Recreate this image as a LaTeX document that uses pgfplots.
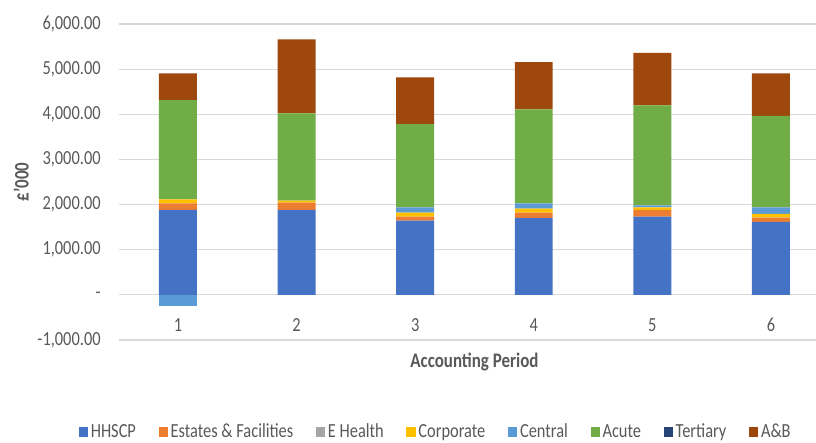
\documentclass[border=0pt]{standalone}
\usepackage{pgfplots}
\pgfplotsset{compat=1.18}
\usepackage{fontspec}
\setmainfont{Carlito}[FakeStretch=0.82]
\definecolor{cHH}{HTML}{4472C4}
\definecolor{cEF}{HTML}{ED7D31}
\definecolor{cEH}{HTML}{A5A5A5}
\definecolor{cCo}{HTML}{FFC000}
\definecolor{cCe}{HTML}{5B9BD5}
\definecolor{cAc}{HTML}{70AD47}
\definecolor{cTe}{HTML}{264478}
\definecolor{cAB}{HTML}{9E480E}
\definecolor{gridgray}{HTML}{D9D9D9}
\definecolor{txtgray}{HTML}{595959}
\begin{document}
\begin{tikzpicture}
\useasboundingbox (-89pt,-76.5pt) rectangle (523pt,255pt);
\begin{axis}[
  scale only axis, width=533.7pt, height=237pt,
  at={(0,0)}, anchor=south west,
  xmin=0.5, xmax=6.5, ymin=-1000, ymax=6000,
  ybar stacked, bar width=0.32,
  xtick={1,2,3,4,5,6}, xticklabels={1,2,3,4,5,6},
  ytick={-1000,0,1000,2000,3000,4000,5000,6000},
  yticklabels={{-1,000.00},{-\hspace{6pt}},{1,000.00},{2,000.00},{3,000.00},{4,000.00},{5,000.00},{6,000.00}},
  ymajorgrids, grid style={color=gridgray, line width=0.8pt},
  axis line style={draw=none}, major tick length=0pt,
  tick label style={font=\fontsize{15pt}{17pt}\selectfont, text=txtgray},
  xticklabel style={anchor=center, yshift=11.25pt},
  yticklabel style={xshift=-10pt},
  xlabel={Accounting Period}, ylabel={£'000},
  every axis x label/.style={at={(axis description cs:0.5,0)}, anchor=center, yshift=-16.5pt, font=\bfseries\fontsize{15.5pt}{17pt}\selectfont, text=txtgray},
  every axis y label/.style={at={(axis description cs:-0.137,0.5)}, anchor=center, rotate=90, font=\bfseries\fontsize{15.5pt}{17pt}\selectfont, text=txtgray},
  legend columns=8,
  legend style={draw=none, fill=none, at={(axis description cs:0.446,-0.291)}, anchor=center,
    font=\fontsize{15pt}{17pt}\selectfont, text=txtgray,
    /tikz/every even column/.append style={column sep=15pt}},
  legend image code/.code={\fill[#1] (0pt,-3.6pt) rectangle (7pt,3.6pt);},
]
\addplot[fill=cHH, draw=none] coordinates {(1,1881) (2,1881) (3,1644) (4,1704) (5,1733) (6,1615)};
\addplot[fill=cEF, draw=none] coordinates {(1,148) (2,160) (3,88) (4,117) (5,148) (6,96)};
\addplot[fill=cEH, draw=none] coordinates {(1,0) (2,0) (3,0) (4,0) (5,0) (6,0)};
\addplot[fill=cCo, draw=none] coordinates {(1,88) (2,45) (3,89) (4,89) (5,59) (6,81)};
\addplot[fill=cCe, draw=none] coordinates {(1,0) (2,0) (3,119) (4,119) (5,45) (6,148)};
\addplot[fill=cAc, draw=none] coordinates {(1,2197) (2,1934) (3,1843) (4,2079) (5,2212) (6,2027)};
\addplot[fill=cTe, draw=none] coordinates {(1,0) (2,0) (3,0) (4,0) (5,0) (6,0)};
\addplot[fill=cAB, draw=none] coordinates {(1,591) (2,1637) (3,1033) (4,1047) (5,1163) (6,938)};
\legend{HHSCP,Estates \& Facilities,E Health,Corporate,Central,Acute,Tertiary,A\&B}
\end{axis}
\begin{axis}[
  scale only axis, width=533.7pt, height=237pt,
  at={(0,0)}, anchor=south west,
  xmin=0.5, xmax=6.5, ymin=-1000, ymax=6000,
  ybar, bar width=0.32,
  hide axis,
]
\addplot[fill=cCe, draw=none] coordinates {(1,-250)};
\end{axis}
\end{tikzpicture}
\end{document}
